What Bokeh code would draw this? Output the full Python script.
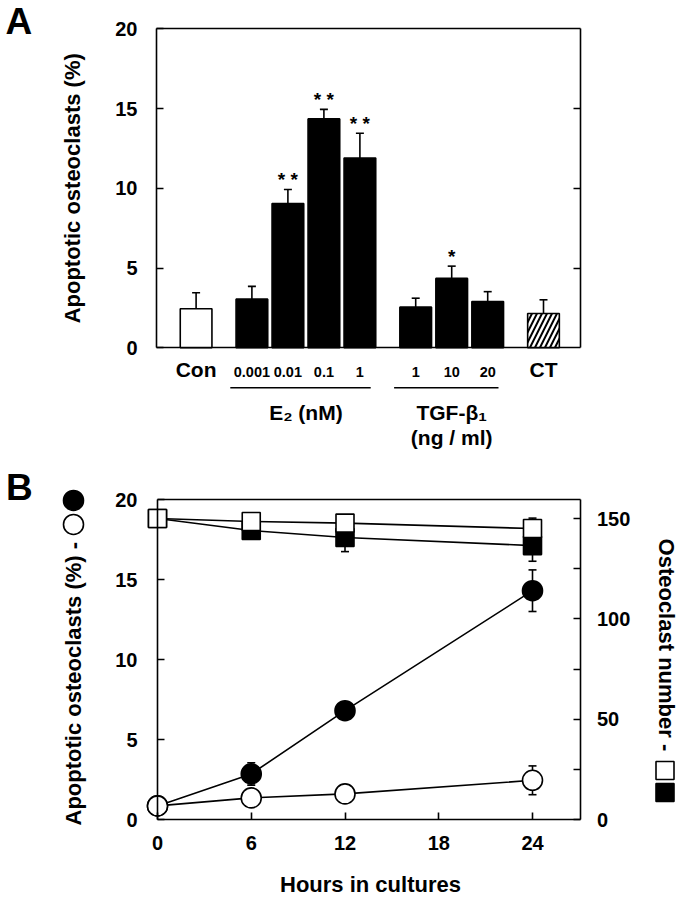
import math
from bokeh.plotting import figure
from bokeh.models import (Range1d, LinearAxis, FixedTicker, ColumnDataSource, LabelSet,
                          Label, Whisker, TeeHead)
from bokeh.layouts import column
from bokeh.embed import file_html
from bokeh.resources import INLINE
from bokeh.core.properties import value

# ---------------- Panel A data ----------------
groups = [["Con"], ["0.001", "0.01", "0.1", "1"], ["1", "10", "20"], ["CT"]]
group_titles = ["", "E\u2082 (nM)", "TGF-\u03b2\u2081", ""]
group_subtitles = ["", "", "(ng / ml)", ""]
bar_values = [2.45, 3.05, 9.05, 14.35, 11.9, 2.55, 4.35, 2.9, 2.15]
bar_errors = [1.0, 0.8, 0.87, 0.6, 1.55, 0.56, 0.77, 0.62, 0.86]
bar_stars = ["", "", "* *", "* *", "* *", "", "*", "", ""]
bar_kinds = ["open", "filled", "filled", "filled", "filled", "filled", "filled", "filled", "hatched"]
yticks_A = [0, 5, 10, 15, 20]
ylabel_A = "Apoptotic osteoclasts (%)"

# ---------------- Panel B data ----------------
hours = [0, 6, 12, 24]
apop_filled = [0.85, 2.85, 6.8, 14.3]
apop_filled_err = [0.0, 0.7, 0.3, 1.3]
apop_open = [0.85, 1.35, 1.6, 2.45]
apop_open_err = [0.0, 0.2, 0.2, 0.9]
count_open = [150, 148.5, 147.7, 145.0]
count_open_err = [0.0, 1.5, 2.0, 5.2]
count_filled = [150, 144.0, 140.5, 136.5]
count_filled_err = [0.0, 3.0, 7.0, 7.8]
xticks_B = [0, 6, 12, 18, 24]
yticks_B = [0, 5, 10, 15, 20]
yticks_B_right = [0, 25, 50, 75, 100, 125, 150]
ylabels_B_right = [0, 50, 100, 150]
ylabel_B = "Apoptotic osteoclasts (%) -"
ylabel_B_right = "Osteoclast number -"
xlabel_B = "Hours in cultures"

FONT = "Liberation Sans"
LW = 1.6

def style_axis(ax, fs="20px"):
    ax.major_tick_in = 7
    ax.major_tick_out = 0
    ax.minor_tick_line_color = None
    ax.axis_line_width = LW
    ax.major_tick_line_width = LW
    ax.axis_line_color = "black"
    ax.major_tick_line_color = "black"
    ax.major_label_text_font = FONT
    ax.major_label_text_font_style = "bold"
    ax.major_label_text_font_size = fs
    ax.major_label_text_color = "black"

def add_axis(p, side, loc, bounds, ticks, standoff=18, overrides=None, range_name=None):
    ax = LinearAxis(fixed_location=loc, bounds=bounds, ticker=FixedTicker(ticks=ticks))
    if range_name:
        ax.y_range_name = range_name
    style_axis(ax)
    ax.major_label_standoff = standoff
    if overrides is not None:
        ax.major_label_overrides = overrides
    p.add_layout(ax, side)
    return ax

def text_label(p, x, y, text, size="22px", angle=0.0, align="center", baseline="middle",
               font=FONT, range_name=None):
    kw = dict(x=x, y=y, text=text, angle=angle, text_align=align, text_baseline=baseline,
              text_font=font, text_font_style="bold", text_font_size=size, text_color="black")
    if range_name:
        kw["y_range_name"] = range_name
    p.add_layout(Label(**kw))

# ---------- positions for panel A (layout, computed from group structure) ----------
GAP = 1.55
xs, labels, big = [], [], []
group_spans = []
pos = 1.1
for gi, g in enumerate(groups):
    if gi > 0:
        pos += GAP
    start = pos
    for j, lab in enumerate(g):
        if j > 0:
            pos += 1
        xs.append(pos)
        labels.append(lab)
        big.append(len(g) == 1)
    group_spans.append((start, pos))
XMAX_A = 11.78

W = 680
pA = figure(width=W, height=449, x_range=Range1d(-4.3333, -4.3333 + W / 36),
            y_range=Range1d(-6.376, 21.774),
            output_backend="svg", toolbar_location=None, min_border=0,
            x_axis_location=None, y_axis_location=None)
pA.grid.visible = False
pA.outline_line_color = None

add_axis(pA, "left", 0, (0, 20), yticks_A, standoff=19)
add_axis(pA, "right", XMAX_A, (0, 20), yticks_A[1:-1], overrides={t: "" for t in yticks_A})
add_axis(pA, "below", 0, (0, XMAX_A), [])
add_axis(pA, "above", 20, (0, XMAX_A), [])

def sel(arr, kind):
    return [a for a, k in zip(arr, bar_kinds) if k == kind]

for kind, fill, hatch in [("filled", "black", None), ("open", "white", None), ("hatched", "white", "/")]:
    src = ColumnDataSource(dict(x=sel(xs, kind), top=sel(bar_values, kind)))
    kw = dict(x="x", top="top", bottom=0, width=0.88, source=src,
              fill_color=fill, line_color="black", line_width=LW)
    if hatch:
        kw.update(hatch_pattern=hatch, hatch_color="black", hatch_scale=10, hatch_weight=2)
    pA.vbar(**kw)

err_src = ColumnDataSource(dict(x=xs, lower=bar_values,
                                upper=[v + e for v, e in zip(bar_values, bar_errors)],
                                star_y=[v + e + 0.2 for v, e in zip(bar_values, bar_errors)],
                                stars=bar_stars))
pA.add_layout(Whisker(base="x", lower="lower", upper="upper", source=err_src,
                      line_width=LW, line_color="black",
                      upper_head=TeeHead(size=8, line_width=LW, line_color="black"),
                      lower_head=None))
pA.add_layout(LabelSet(x="x", y="star_y", text="stars", source=err_src,
                       text_align="center", text_baseline="alphabetic",
                       text_font=value(FONT), text_font_style="bold",
                       text_font_size="19px", text_color="black"))

big_src = ColumnDataSource(dict(x=[x for x, b in zip(xs, big) if b],
                                y=[-1.35] * sum(big),
                                t=[l for l, b in zip(labels, big) if b]))
small_src = ColumnDataSource(dict(x=[x for x, b in zip(xs, big) if not b],
                                  y=[-1.5] * (len(xs) - sum(big)),
                                  t=[l for l, b in zip(labels, big) if not b]))
pA.add_layout(LabelSet(x="x", y="y", text="t", source=big_src, text_align="center",
                       text_baseline="middle", text_font=value(FONT), text_font_style="bold",
                       text_font_size="21px", text_color="black"))
pA.add_layout(LabelSet(x="x", y="y", text="t", source=small_src, text_align="center",
                       text_baseline="middle", text_font=value(FONT), text_font_style="bold",
                       text_font_size="14.5px", text_color="black"))

seg_x0, seg_x1, seg_y = [], [], []
for (s, e), title, sub in zip(group_spans, group_titles, group_subtitles):
    if not title:
        continue
    seg_x0.append(s - 0.6)
    seg_x1.append(e + 0.3)
    seg_y.append(-2.5)
    text_label(pA, (s + e) / 2, -4.05, title, size="21px")
    if sub:
        text_label(pA, (s + e) / 2, -5.6, sub, size="21px")
pA.segment(x0=seg_x0, x1=seg_x1, y0=seg_y, y1=seg_y, line_color="black", line_width=LW)

text_label(pA, -2.333, 10, ylabel_A, angle=math.pi / 2)
text_label(pA, -4.194, 20.43, "A", size="37px", align="left", baseline="middle")

# ---------------- Panel B ----------------
XMAX_B = 27.1
YMAX_B = 20
CMAX_B = 159.47
pB = figure(width=W, height=447, x_range=Range1d(-10.048, -10.048 + W / 15.625),
            y_range=Range1d(-4.8125, 23.125),
            output_backend="svg", toolbar_location=None, min_border=0,
            x_axis_location=None, y_axis_location=None)
pB.grid.visible = False
pB.outline_line_color = None
pB.extra_y_ranges = {"count": Range1d(-38.37, 184.39)}

add_axis(pB, "left", 0, (0, YMAX_B), yticks_B, standoff=20)
add_axis(pB, "below", 0, (0, XMAX_B), xticks_B, standoff=16)
add_axis(pB, "above", YMAX_B, (0, XMAX_B), [])
add_axis(pB, "right", XMAX_B, (0, CMAX_B), yticks_B_right, standoff=16,
         overrides={t: "" for t in yticks_B_right if t not in ylabels_B_right},
         range_name="count")

srcB = ColumnDataSource(dict(
    h=hours, af=apop_filled, ao=apop_open, co=count_open, cf=count_filled,
    af_lo=[v - e for v, e in zip(apop_filled, apop_filled_err)],
    af_hi=[v + e for v, e in zip(apop_filled, apop_filled_err)],
    ao_lo=[v - e for v, e in zip(apop_open, apop_open_err)],
    ao_hi=[v + e for v, e in zip(apop_open, apop_open_err)],
    co_lo=[v - e for v, e in zip(count_open, count_open_err)],
    co_hi=[v + e for v, e in zip(count_open, count_open_err)],
    cf_lo=[v - e for v, e in zip(count_filled, count_filled_err)],
    cf_hi=[v + e for v, e in zip(count_filled, count_filled_err)],
))

def whisk(lo, hi, rng=None):
    kw = dict(base="h", lower=lo, upper=hi, source=srcB, line_width=LW, line_color="black",
              upper_head=TeeHead(size=8, line_width=LW, line_color="black"),
              lower_head=TeeHead(size=8, line_width=LW, line_color="black"))
    if rng:
        kw["y_range_name"] = rng
    pB.add_layout(Whisker(**kw))

whisk("af_lo", "af_hi")
whisk("ao_lo", "ao_hi")
whisk("cf_lo", "cf_hi", "count")
whisk("co_lo", "co_hi", "count")

pB.line("h", "cf", source=srcB, y_range_name="count", line_color="black", line_width=LW)
pB.line("h", "co", source=srcB, y_range_name="count", line_color="black", line_width=LW)
pB.line("h", "af", source=srcB, line_color="black", line_width=LW)
pB.line("h", "ao", source=srcB, line_color="black", line_width=LW)
pB.scatter("h", "cf", source=srcB, y_range_name="count", marker="square", size=18,
           fill_color="black", line_color="black", line_width=LW)
pB.scatter("h", "co", source=srcB, y_range_name="count", marker="square", size=18,
           fill_color="white", line_color="black", line_width=LW)
pB.scatter("h", "af", source=srcB, marker="circle", size=20,
           fill_color="black", line_color="black", line_width=LW)
pB.scatter("h", "ao", source=srcB, marker="circle", size=20,
           fill_color="white", line_color="black", line_width=LW)

# axis titles (drawn as labels so that the keys can sit next to them)
text_label(pB, -5.376, -0.375, ylabel_B, angle=math.pi / 2, align="left")
text_label(pB, 32.58, 17.56, ylabel_B_right, angle=-math.pi / 2, align="left")
text_label(pB, 13.63, -4.06, xlabel_B)
text_label(pB, -9.696, 20.78, "B", size="37px", align="left", baseline="middle")

# symbol keys that end the axis titles
key_src = ColumnDataSource(dict(x=[-5.376, -5.376], y=[19.94, 18.44],
                                fill=["black", "white"]))
pB.scatter("x", "y", source=key_src, marker="circle", size=20, fill_color="fill",
           line_color="black", line_width=LW)
key_src2 = ColumnDataSource(dict(x=[32.48, 32.48], y=[3.06, 1.69], fill=["white", "black"]))
pB.scatter("x", "y", source=key_src2, marker="square", size=18, fill_color="fill",
           line_color="black", line_width=LW)

layout = column(pA, pB, spacing=0)
open("out.html", "w").write(file_html(layout, INLINE))
